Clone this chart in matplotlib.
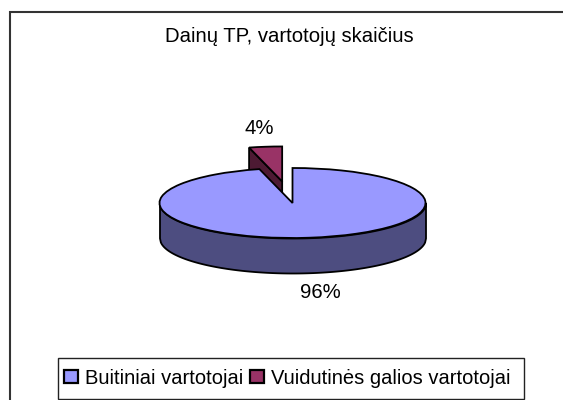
import numpy as np
import matplotlib
matplotlib.use('Agg')
import matplotlib.pyplot as plt
from matplotlib.lines import Line2D
from matplotlib.patches import Patch, Rectangle

title = 'Dainų TP, vartotojų skaičius'
labels = ['Buitiniai vartotojai', 'Vuidutinės galios vartotojai']
values = [96, 4]
pct_labels = ['96%', '4%']
top_colors = ['#9999FF', '#993366']
side_colors = ['#4D4D80', '#4D1A33']

W, H = 563, 400
plt.rcParams['font.family'] = ['Liberation Sans', 'DejaVu Sans']
fig = plt.figure(figsize=(W / 100, H / 100), dpi=100, facecolor='white')


def px(x, y):
    return x / W, 1 - y / H


# chart border, only the left and top sides are inside the picture
fig.add_artist(Line2D([10.3 / W, 10.3 / W, 1], [0, 1 - 12 / H, 1 - 12 / H], transform=fig.transFigure,
                      color='#333333', linewidth=1.5, solid_joinstyle='miter'))

# pie axes: unit circle squashed into the ellipse on the page
left, right, top, bottom = 159.5, 425.5, 168, 238
ax = fig.add_axes([left / W, 1 - bottom / H, (right - left) / W, (bottom - top) / H])
explode = [0, 0.62]
wedges, _ = ax.pie(values, colors=top_colors, startangle=90, counterclock=False, radius=1,
                   explode=explode, wedgeprops={'edgecolor': 'black', 'linewidth': 1.3})
ax.set_aspect('auto')
ax.set_xlim(-1, 1)
ax.set_ylim(-1, 1)
ax.axis('off')
for w in wedges:
    w.set_clip_on(False)

depth = 1.0
total = sum(values)
ang = 2 * np.pi * values[1] / total
mid = ang / 2
ex, ey = -0.62 * np.sin(mid), 0.62 * np.cos(mid)
rim_x, rim_y = ex - np.sin(ang), ey + np.cos(ang)

# exploded slice wall, drawn behind the big slice
ax.fill([rim_x, rim_x, ex, ex], [rim_y, rim_y - depth, ey - depth, ey], facecolor=side_colors[1],
        edgecolor='black', linewidth=1.3, clip_on=False, zorder=0.5)
wedges[1].set_zorder(0.6)

# front wall of the big slice
xs = np.linspace(-1, 1, 300)
ys = -np.sqrt(1 - xs ** 2)
ax.fill_between(xs, ys, ys - depth, facecolor=side_colors[0], edgecolor='black', linewidth=1.3,
                clip_on=False, zorder=0.8)
wedges[0].set_zorder(1)

fig.text(*px(289.5, 36.5), title, ha='center', va='center', fontsize=14.6)
fig.text(*px(259, 128.5), pct_labels[1], ha='center', va='center', fontsize=14.6)
fig.text(*px(320, 292.5), pct_labels[0], ha='center', va='center', fontsize=14.6)

# legend box is separate so its padding can differ from the legend's own
fig.add_artist(Rectangle(px(57.5, 399), 466 / W, 41 / H, transform=fig.transFigure,
                         facecolor='white', edgecolor='#222222', linewidth=1.0))
handles = [Patch(facecolor=c, edgecolor='black', linewidth=1.6) for c in top_colors]
fig.legend(handles, labels, loc='center left', bbox_to_anchor=px(64, 378), ncol=2, fontsize=14.5,
           frameon=False, handlelength=0.68, handleheight=0.68, handletextpad=0.35,
           columnspacing=0.35, borderpad=0, borderaxespad=0)

fig.savefig('out.png', dpi=100)
